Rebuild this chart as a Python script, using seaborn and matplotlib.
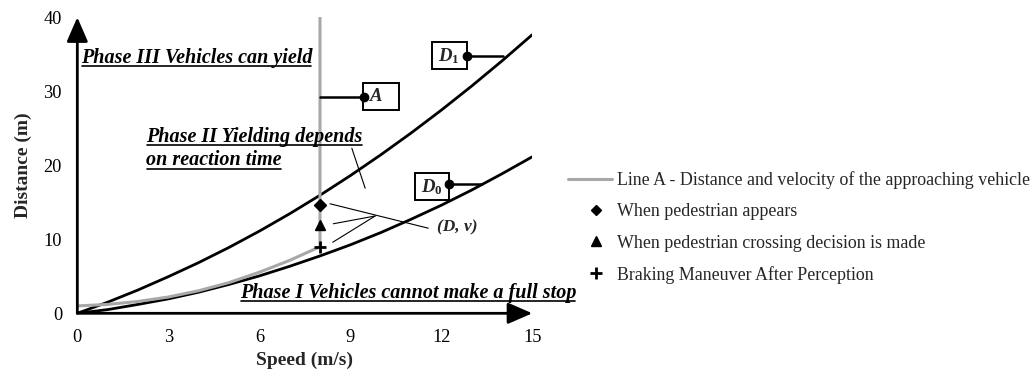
import matplotlib
matplotlib.use("Agg")
import matplotlib.pyplot as plt
import pandas as pd
import seaborn as sns
from matplotlib.lines import Line2D
from matplotlib.patches import Rectangle
from matplotlib.legend_handler import HandlerLine2D

# ---- data -------------------------------------------------------------
speed = [0, 1, 2, 3, 4, 5, 6, 7, 8, 9, 10, 11, 12, 13, 14, 15]
d1_dist = [0.0, 1.5, 3.15, 4.95, 6.85, 8.9, 11.1, 13.45, 15.95, 18.6, 21.4,
           24.35, 27.45, 30.7, 34.1, 37.65]
d0_dist = [0.0, 0.5, 1.2, 1.95, 2.85, 3.9, 5.05, 6.35, 7.75, 9.25, 10.9,
           12.7, 14.6, 16.65, 18.85, 21.15]

line_a_speed = [0, 1, 2, 3, 4, 5, 6, 7, 8, 8]
line_a_dist = [1.0, 1.2, 1.6, 2.2, 3.05, 4.15, 5.55, 7.15, 9.0, 40.0]

event_speed = [8, 8, 8]
event_dist = [14.7, 11.9, 9.0]
event_markers = ["D", "^", "+"]
event_labels = ["When pedestrian appears",
                "When pedestrian crossing decision is made",
                "Braking Maneuver After Perception"]
line_a_label = "Line A - Distance and velocity of the approaching vehicle"

x_ticks = [0, 3, 6, 9, 12, 15]
y_ticks = [0, 10, 20, 30, 40]

# ---- style ------------------------------------------------------------
sns.set_theme(style="white")
plt.rcParams["font.family"] = ["Liberation Serif", "DejaVu Serif"]
plt.rcParams["mathtext.fontset"] = "custom"
plt.rcParams["mathtext.rm"] = "Liberation Serif:bold"
plt.rcParams["mathtext.bf"] = "Liberation Serif:bold"
plt.rcParams["mathtext.it"] = "Liberation Serif:italic:bold"

GRAY = "#a8a8a8"
fig = plt.figure(figsize=(10.31, 3.71), dpi=100)
ax = fig.add_axes([0.075, 0.1555, 0.4413, 0.798])

curves = pd.DataFrame({"speed": speed, "D1": d1_dist, "D0": d0_dist})
line_a = pd.DataFrame({"speed": line_a_speed, "dist": line_a_dist})

sns.lineplot(data=curves, x="speed", y="D1", color="black", lw=2.0, ax=ax)
sns.lineplot(data=curves, x="speed", y="D0", color="black", lw=2.0, ax=ax)
sns.lineplot(data=line_a, x="speed", y="dist", color=GRAY, lw=2.2,
             sort=False, estimator=None, ax=ax, zorder=3)

for xs, ys, m in zip(event_speed, event_dist, event_markers):
    if m == "+":
        ax.plot(xs, ys, marker="+", ms=9, mew=2, color="black", zorder=5)
    else:
        ax.plot(xs, ys, marker=m, ms=6 if m == "D" else 7.5,
                color="black", ls="none", zorder=5)

ax.set_xlim(0, 15)
ax.set_ylim(0, 40)
ax.set_xticks(x_ticks)
ax.set_yticks(y_ticks)
ax.tick_params(axis="both", direction="out", length=4, width=1.2,
               labelsize=13.2, colors="black")
ax.tick_params(axis="y", pad=7)
ax.tick_params(axis="x", pad=7.5)
for s in ax.spines.values():
    s.set_visible(False)

# arrow-headed axes
arrow_kw = dict(arrowstyle="-|>,head_length=1.15,head_width=0.5", lw=2,
                color="black", shrinkA=0, shrinkB=0, mutation_scale=13)
ax.annotate("", xy=(1.0, 0), xytext=(0, 0), xycoords="axes fraction",
            textcoords="axes fraction", arrowprops=arrow_kw, annotation_clip=False)
ax.annotate("", xy=(0, 1.0), xytext=(0, 0), xycoords="axes fraction",
            textcoords="axes fraction", arrowprops=arrow_kw, annotation_clip=False)

ax.set_xlabel("Speed (m/s)", fontsize=14, fontweight="bold", labelpad=4)
ax.set_ylabel("Distance (m)", fontsize=14, fontweight="bold", labelpad=8)

# ---- phase annotations (underlined bold italic) ------------------------
phase_kw = dict(fontsize=14.5, fontweight="bold", fontstyle="italic",
                va="baseline", ha="left", color="black")
phase_texts = [
    ax.text(0.12, 33.8, "Phase III Vehicles can yield", **phase_kw),
    ax.text(2.28, 23.2, "Phase II Yielding depends", **phase_kw),
    ax.text(2.28, 20.0, "on reaction time", **phase_kw),
    ax.text(5.35, 2.1, "Phase I Vehicles cannot make a full stop", **phase_kw),
]

# ---- labelled boxes ---------------------------------------------------
def tag(x0, y0, w, h, label, dot, target):
    ax.add_patch(Rectangle((x0, y0), w, h, fill=True, facecolor="white",
                           edgecolor="black", lw=1.4, zorder=4, clip_on=False))
    ax.plot([dot[0], target[0]], [dot[1], target[1]], color="black", lw=1.8, zorder=4)
    ax.plot(dot[0], dot[1], "o", color="black", ms=6, zorder=6)
    return ax.text(x0 + w * 0.5, y0 + h * 0.5, label, ha="center", va="center",
                   fontsize=13.5, zorder=6)

tag(9.43, 27.5, 1.18, 3.6, r"$A$   ", (9.45, 29.2), (8.0, 29.2))
tag(11.68, 33.0, 1.16, 3.6, r"$D_{\mathbf{1}}$", (12.84, 34.8), (14.05, 34.8))
tag(11.13, 15.3, 1.12, 3.6, r"$D_{\mathbf{0}}$", (12.25, 17.5), (13.33, 17.5))

# thin pointer lines
thin = dict(color="black", lw=0.8, zorder=4)
ax.plot([9.05, 9.49], [22.3, 16.9], **thin)
ax.plot([8.33, 11.57], [14.8, 11.5], **thin)
ax.plot([8.44, 9.82], [12.1, 13.15], **thin)
ax.plot([8.42, 9.82], [9.6, 13.15], **thin)
ax.text(11.85, 11.6, "(D, v)", fontsize=12.5, fontweight="bold", fontstyle="italic",
        va="center", ha="left")

# ---- legend -----------------------------------------------------------
class ShiftedMarker(HandlerLine2D):
    """Marker-only legend handle nudged to the right of the handle centre."""
    def create_artists(self, legend, orig_handle, xdescent, ydescent,
                       width, height, fontsize, trans):
        arts = super().create_artists(legend, orig_handle, xdescent, ydescent,
                                      width, height, fontsize, trans)
        for a in arts:
            a.set_xdata([x + 4.5 for x in a.get_xdata()])
        return arts

handles = [Line2D([], [], color=GRAY, lw=2.2)]
handles += [Line2D([], [], color="black", ls="none", marker="D", ms=5.5),
            Line2D([], [], color="black", ls="none", marker="^", ms=7),
            Line2D([], [], color="black", ls="none", marker="+", ms=8, mew=2)]
labels = [line_a_label] + event_labels
hmap = {h: ShiftedMarker(numpoints=1) for h in handles[1:]}
fig.legend(handles, labels, loc="upper left", bbox_to_anchor=(568 / 1031, 1 - 171 / 371),
           frameon=False, fontsize=12.9, handlelength=2.45, handletextpad=0.3,
           labelspacing=0.8, borderaxespad=0, borderpad=0, handler_map=hmap)

# underline the phase texts just beneath their baselines
fig.canvas.draw()
renderer = fig.canvas.get_renderer()
inv = fig.transFigure.inverted()
for t in phase_texts:
    bb = t.get_window_extent(renderer)
    base = ax.transData.transform(t.get_position())[1] - 3.3
    p0 = inv.transform((bb.x0 + 1, base))
    p1 = inv.transform((bb.x1 - 1, base))
    fig.add_artist(Line2D([p0[0], p1[0]], [p0[1], p1[1]], color="black", lw=1.2))

fig.savefig("out.png", dpi=100)
